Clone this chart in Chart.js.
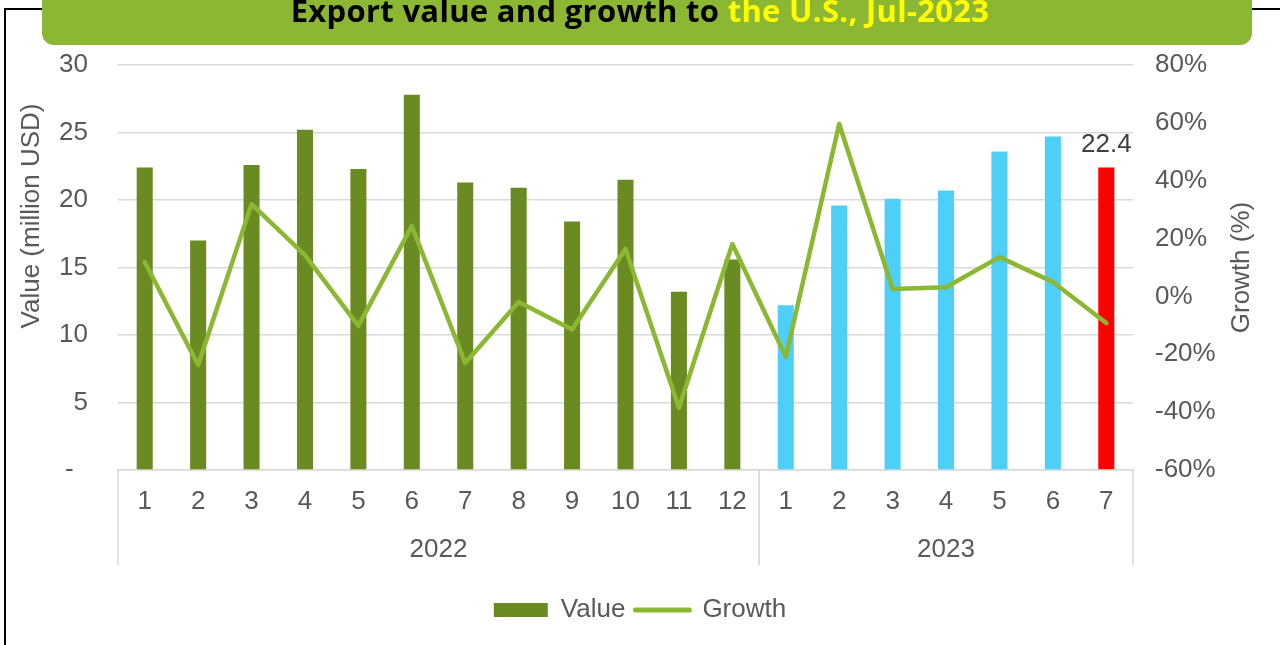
<!DOCTYPE html>
<html>
<head>
<meta charset="utf-8">
<script src="https://cdn.jsdelivr.net/npm/chart.js@4.4.0/dist/chart.umd.min.js"></script>
<style>
  body { margin: 0; background: #fff; width: 1280px; height: 645px; overflow: hidden; position: relative; }
  #frame { position: absolute; left: 4px; top: 8px; width: 1300px; height: 700px; border: 2px solid #000; box-sizing: border-box; }
  #banner { position: absolute; left: 42px; top: -20px; width: 1210px; height: 65px; background: #8cb733; border-radius: 12px; z-index: 2; }
  #title { position: absolute; left: 0; top: -5px; width: 1280px; text-align: center; z-index: 3;
           font: 700 31px "Open Sans", sans-serif; line-height: 31px; letter-spacing: 0.3px; color: #000; white-space: nowrap; }
  #title .hl { color: #ffff00; }
  #wrap { position: absolute; left: 0; top: 0; width: 1280px; height: 645px; z-index: 1; }
</style>
</head>
<body>
<div id="frame"></div>
<div id="banner"></div>
<div id="title">Export value and growth to <span class="hl">the U.S., Jul-2023</span></div>
<div id="wrap"><canvas id="chart" width="1280" height="645"></canvas></div>
<script>
// categories
const months = ['1','2','3','4','5','6','7','8','9','10','11','12','1','2','3','4','5','6','7'];
const years = ['2022', '2023'];
const monthsPerYear = [12, 7];

// series (million USD, %)
const values = [22.4, 17.0, 22.6, 25.2, 22.3, 27.8, 21.3, 20.9, 18.4, 21.5, 13.2, 15.6,
                12.2, 19.6, 20.1, 20.7, 23.6, 24.7, 22.4];
const growth = [11.9, -23.7, 31.9, 14.3, -10.2, 24.3, -23.0, -1.9, -11.4, 16.4, -38.5, 18.1,
                -20.9, 59.6, 2.6, 3.2, 13.6, 5.0, -9.2];

const olive = '#6a8a22';
const blue = '#4dcff7';
const red = '#ff0000';
const lineGreen = '#8cb733';
const textGrey = '#595959';
const gridGrey = '#d9d9d9';
const font = 'Liberation Sans, Arial, sans-serif';
const fs = 26;

const barColors = values.map((v, i) => {
  if (i === values.length - 1) return red;
  return i < monthsPerYear[0] ? olive : blue;
});

// year groups under the month labels, axis titles and last value label
const extras = {
  id: 'extras',
  afterDraw(chart) {
    const { ctx, scales: { x, y1 } } = chart;
    const lineBottom = x.top + 95;
    ctx.save();
    ctx.strokeStyle = gridGrey;
    ctx.lineWidth = 1.5;
    ctx.fillStyle = textGrey;
    ctx.font = fs + 'px ' + font;
    ctx.textAlign = 'center';
    ctx.textBaseline = 'middle';
    let start = 0;
    const last = months.length - 1;
    years.forEach((yr, g) => {
      const end = start + monthsPerYear[g] - 1;
      const l = start === 0 ? x.left : (x.getPixelForTick(start - 1) + x.getPixelForTick(start)) / 2;
      const r = end === last ? x.right : (x.getPixelForTick(end) + x.getPixelForTick(end + 1)) / 2;
      [l, r].forEach(px => {
        ctx.beginPath();
        ctx.moveTo(px, x.top);
        ctx.lineTo(px, lineBottom);
        ctx.stroke();
      });
      ctx.fillText(yr, (l + r) / 2, x.top + 80);
      start = end + 1;
    });

    // axis titles
    ctx.save();
    ctx.translate(32, 216);
    ctx.rotate(-Math.PI / 2);
    ctx.fillText('Value (million USD)', 0, 0);
    ctx.restore();
    ctx.save();
    ctx.translate(1242, (y1.top + y1.bottom) / 2);
    ctx.rotate(-Math.PI / 2);
    ctx.fillText('Growth (%)', 0, 0);
    ctx.restore();

    // label on the latest bar
    const el = chart.getDatasetMeta(0).data[last];
    ctx.fillStyle = '#404040';
    ctx.fillText(values[last].toFixed(1), el.x, el.y - 23);
    ctx.restore();
  }
};

new Chart(document.getElementById('chart'), {
  type: 'bar',
  data: {
    labels: months,
    datasets: [{
      label: 'Value',
      data: values,
      backgroundColor: barColors,
      barPercentage: 1,
      categoryPercentage: 0.3,
      yAxisID: 'y',
      order: 1
    }, {
      type: 'line',
      label: 'Growth',
      data: growth,
      borderColor: lineGreen,
      borderWidth: 4.5,
      borderCapStyle: 'round',
      borderJoinStyle: 'round',
      pointRadius: 0,
      tension: 0,
      yAxisID: 'y1',
      order: 0
    }]
  },
  options: {
    responsive: false,
    animation: false,
    layout: { padding: { top: 65, bottom: 12, left: 0, right: 0 } },
    scales: {
      x: {
        grid: { display: false, drawTicks: false },
        border: { display: true, color: gridGrey, width: 1.5 },
        ticks: { color: textGrey, font: { size: fs, family: font }, padding: 16, maxRotation: 0, autoSkip: false },
        afterFit: s => { s.height = 117; }
      },
      y: {
        position: 'left',
        min: 0,
        max: 30,
        ticks: {
          stepSize: 5,
          color: textGrey,
          font: { size: fs, family: font },
          padding: 30,
          callback: v => v === 0 ? '-  ' : v
        },
        grid: { color: gridGrey, lineWidth: 1.5, drawTicks: false },
        border: { display: false },
        afterFit: s => { s.width = 118; }
      },
      y1: {
        position: 'right',
        min: -60,
        max: 80,
        ticks: {
          stepSize: 20,
          color: textGrey,
          font: { size: fs, family: font },
          padding: 22,
          callback: v => v + '%'
        },
        grid: { display: false, drawTicks: false },
        border: { display: false },
        afterFit: s => { s.width = 147; }
      }
    },
    plugins: {
      tooltip: { enabled: false },
      legend: {
        position: 'bottom',
        labels: {
          usePointStyle: true,
          pointStyleWidth: 54,
          boxHeight: 14,
          color: textGrey,
          font: { size: fs, family: font },
          padding: 10,
          generateLabels: () => [
            { text: 'Value', fillStyle: olive, strokeStyle: olive, lineWidth: 0, pointStyle: 'rect', datasetIndex: 0, fontColor: textGrey },
            { text: 'Growth', fillStyle: lineGreen, strokeStyle: lineGreen, lineWidth: 5, lineCap: 'round', pointStyle: 'line', datasetIndex: 1, fontColor: textGrey }
          ]
        }
      }
    }
  },
  plugins: [extras]
});
</script>
</body>
</html>
